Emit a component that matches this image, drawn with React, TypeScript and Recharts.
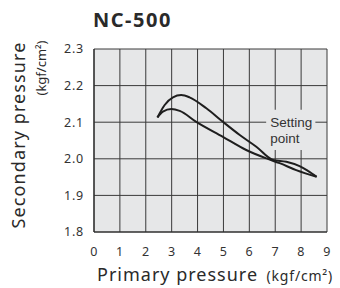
import {
  CartesianGrid,
  Line,
  LineChart,
  ReferenceArea,
  XAxis,
  YAxis,
} from "recharts";

// curve (primary vs secondary pressure)
const upperX = [2.45, 2.73, 3.05, 3.37, 3.69, 4.34, 4.98, 5.63, 6.27, 6.91, 7.43, 7.94, 8.26, 8.6];
const upperY = [2.113, 2.147, 2.168, 2.174, 2.168, 2.138, 2.101, 2.065, 2.033, 1.997, 1.992, 1.98, 1.967, 1.951];
const lowerX = [2.45, 2.66, 2.99, 3.31, 3.95, 4.98, 5.88, 6.66, 7.17, 7.81, 8.6];
const lowerY = [2.113, 2.129, 2.136, 2.131, 2.101, 2.06, 2.024, 2.001, 1.988, 1.969, 1.951];

const xTicks = [0, 1, 2, 3, 4, 5, 6, 7, 8, 9];
const yTicks = [1.8, 1.9, 2.0, 2.1, 2.2, 2.3];

const upper = upperX.map((x, i) => ({ x, y: upperY[i] }));
const lower = lowerX.map((x, i) => ({ x, y: lowerY[i] }));

const FONT = "'Noto Sans', sans-serif";
const BG = "#e6e7e8";
const INK = "#2b2b2b";

function SettingLabel({ viewBox }: any) {
  const left = viewBox.x + 4;
  const top = viewBox.y;
  return (
    <g fontFamily="'Liberation Sans', Arial, sans-serif" fontSize={13.5} fill="#333">
      <text x={left} y={top + 17}>Setting</text>
      <text x={left} y={top + 33}>point</text>
    </g>
  );
}

export default function App() {
  return (
    <div style={{ position: "absolute", left: 0, top: 0, width: 340, height: 288 }}>
      <LineChart
        width={340}
        height={288}
        margin={{ top: 49, right: 13, bottom: 0, left: 0 }}
      >
        <CartesianGrid stroke="#3a3a3a" strokeWidth={1} fill={BG} />
        <XAxis
          dataKey="x"
          type="number"
          domain={[0, 9]}
          ticks={xTicks}
          height={56}
          tickLine={false}
          tickMargin={9}
          axisLine={{ stroke: INK, strokeWidth: 1.2 }}
          tick={{ fill: "#333", fontSize: 12.5, fontFamily: FONT, letterSpacing: 0.4 }}
          allowDataOverflow
        />
        <YAxis
          type="number"
          domain={[1.8, 2.3]}
          ticks={yTicks}
          width={94}
          tickLine={false}
          tickMargin={4}
          axisLine={{ stroke: INK, strokeWidth: 1.2 }}
          tick={{ fill: "#333", fontSize: 12.5, fontFamily: FONT, letterSpacing: 0.8 }}
          tickFormatter={(v: number) => v.toFixed(1)}
        />
        <ReferenceArea
          x1={6.65}
          x2={8.55}
          y1={2.024}
          y2={2.134}
          fill={BG}
          fillOpacity={1}
          stroke="none"
          label={<SettingLabel />}
        />
        <Line
          data={upper}
          dataKey="y"
          type="monotone"
          stroke="#1e1e1e"
          strokeWidth={2}
          dot={false}
          isAnimationActive={false}
        />
        <Line
          data={lower}
          dataKey="y"
          type="monotone"
          stroke="#1e1e1e"
          strokeWidth={2}
          dot={false}
          isAnimationActive={false}
        />
      </LineChart>
      <svg
        width={340}
        height={288}
        style={{ position: "absolute", left: 0, top: 0, pointerEvents: "none" }}
        fontFamily={FONT}
        fill="#2a2a2a"
      >
        <text x={93} y={27} fontSize={20} fontWeight={700} letterSpacing={1.5}>
          NC-500
        </text>
        <text
          transform="translate(25,135) rotate(-90)"
          textAnchor="middle"
          fontSize={18}
          letterSpacing={1.1}
        >
          Secondary pressure
        </text>
        <text
          transform="translate(46,68) rotate(-90)"
          textAnchor="middle"
          fontSize={13}
        >
          (kgf/cm²)
        </text>
        <text x={97} y={281} fontSize={18} letterSpacing={1}>
          Primary pressure
        </text>
        <text x={333} y={281} fontSize={14} textAnchor="end" letterSpacing={0.8}>
          (kgf/cm²)
        </text>
      </svg>
    </div>
  );
}
